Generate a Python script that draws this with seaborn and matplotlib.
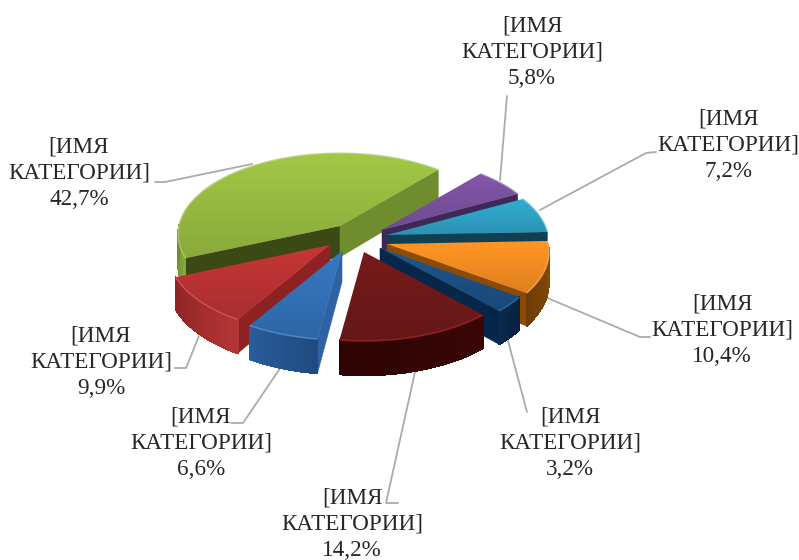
import colorsys
import numpy as np
import seaborn as sns
import matplotlib.pyplot as plt
from matplotlib.colors import to_rgb
from matplotlib.patches import Polygon
from matplotlib.collections import PolyCollection

shares = [5.8, 7.2, 10.4, 3.2, 14.2, 6.6, 9.9, 42.7]
category = "[ИМЯ\nКАТЕГОРИИ]"

# look of each slice, same order as shares
top_colors = ["#7B52A0", "#2FA3C6", "#F58E22", "#1C5185", "#701A1A", "#3372B8", "#BC3333", "#99BD42"]
arc_colors = [("#5E3D80", "#4A2F66"), ("#1D7C99", "#175F78"), ("#8F5007", "#6E3D05"), ("#07203C", "#0A2A4C"),
              ("#3A0606", "#2E0404"), ("#1F4A80", "#2A5C9A"), ("#B53535", "#8E2424"), ("#87A83A", "#6E8C2E")]
start_wall = ["#3E2858", "#0F3F50", "#8B4B06", "#06264A", "#4A0C0C", "#2E62A4", "#8E2222", "#3B4A15"]
end_wall = ["#3E2858", "#0F3F50", "#8B4B06", "#06264A", "#4A0C0C", "#2E62A4", "#8E2222", "#6F8C2E"]

# how far each slice is pulled out of the centre, in pixels
center = (362, 238)
pull_x = [20, 25, 25, 18, 2, -20, -32, -22]
pull_y = [-8, -3, 6, 10, 14, 13, 7, -12]

# drawing order, back to front
order = [7, 0, 1, 2, 3, 6, 5, 4]

label_pos = [(532, 52), (728, 145), (722, 330), (570, 443), (352, 524), (201, 443), (101, 362), (79, 173)]
leaders = [[(507, 96), (500, 180)],
           [(656, 152), (646, 153), (540, 210)],
           [(650, 337), (640, 337), (545, 297)],
           [(527, 412), (507, 337)],
           [(398, 503), (386, 503), (415, 372)],
           [(231, 423), (243, 423), (281, 367)],
           [(175, 368), (186, 368), (199, 336)],
           [(155, 182), (165, 182), (252, 164)]]

rx, ry, depth, persp = 161, 80, 31, 0.1
start_angle = 41

sns.set_theme(style="white")
plt.rcParams['font.family'] = ['Liberation Serif', 'DejaVu Serif']

fig = plt.figure(figsize=(7.99, 5.6), dpi=100)
ax = fig.add_axes([0, 0, 1, 1])


def rim(theta, ox, oy, drop=0):
    # outer edge of a slice, squashed with a little perspective
    s = 1 / (1 + persp * np.cos(theta))
    return np.column_stack([ox + rx * np.sin(theta) * s,
                            oy - ry * np.cos(theta) * s + drop * s])


def shaded_top(poly, color, z):
    rgb = np.array(to_rgb(color))
    ramp = np.linspace(1.06, 0.9, 64)[:, None, None] * rgb
    x0, y0 = poly.min(axis=0)
    x1, y1 = poly.max(axis=0)
    im = ax.imshow(np.clip(ramp, 0, 1), extent=[x0, x1, y1, y0], aspect="auto", zorder=z)
    patch = Polygon(poly, closed=True, transform=ax.transData, fc="none", ec="none", zorder=z)
    ax.add_patch(patch)
    im.set_clip_path(patch)


edges = start_angle + np.cumsum([0] + shares) * 3.6
for n, i in enumerate(order):
    z = 2 + n * 4
    ox, oy = center[0] + pull_x[i], center[1] + pull_y[i]
    theta = np.radians(np.linspace(edges[i], edges[i + 1], 90))
    top = rim(theta, ox, oy)
    low = rim(theta, ox, oy, depth)
    apex = np.array([ox, oy])
    apex_low = np.array([ox, oy + depth])

    # only the walls that face the viewer
    if np.sin(theta[0]) < 0:
        ax.add_patch(Polygon([apex, top[0], low[0], apex_low], fc=start_wall[i], ec=start_wall[i], lw=0.4, zorder=z))
    if np.sin(theta[-1]) > 0:
        ax.add_patch(Polygon([apex, top[-1], low[-1], apex_low], fc=end_wall[i], ec=end_wall[i], lw=0.4, zorder=z))
    strips = [[top[k], top[k + 1], low[k + 1], low[k]] for k in range(len(top) - 1) if np.cos(theta[k]) < 0]
    if strips:
        wall = sns.blend_palette(arc_colors[i], len(strips))
        ax.add_collection(PolyCollection(strips, facecolors=wall, edgecolors=wall, linewidths=0.6,
                                         antialiaseds=False, zorder=z + 1))

    shaded_top(np.vstack([apex, top]), top_colors[i], z + 2)
    h, l, s = colorsys.rgb_to_hls(*to_rgb(top_colors[i]))
    light = colorsys.hls_to_rgb(h, min(l + 0.12, 0.9), s)
    ax.plot(top[:, 0], top[:, 1], color=light, lw=1.1, alpha=0.8, zorder=z + 3, solid_capstyle="butt")

for i, share in enumerate(shares):
    pts = np.array(leaders[i])
    ax.plot(pts[:, 0], pts[:, 1], color="#ABABAB", lw=1.3, zorder=1)
    pct = f"{share:.1f}%".replace(".", ",")
    ax.text(label_pos[i][0], label_pos[i][1], f"{category}\n{pct}", ha="center", va="center",
            fontsize=16.7, color="#262626", linespacing=1.33, zorder=60)

ax.set_xlim(0, 799)
ax.set_ylim(560, 0)
ax.set_axis_off()

fig.savefig("out.png", dpi=100)
